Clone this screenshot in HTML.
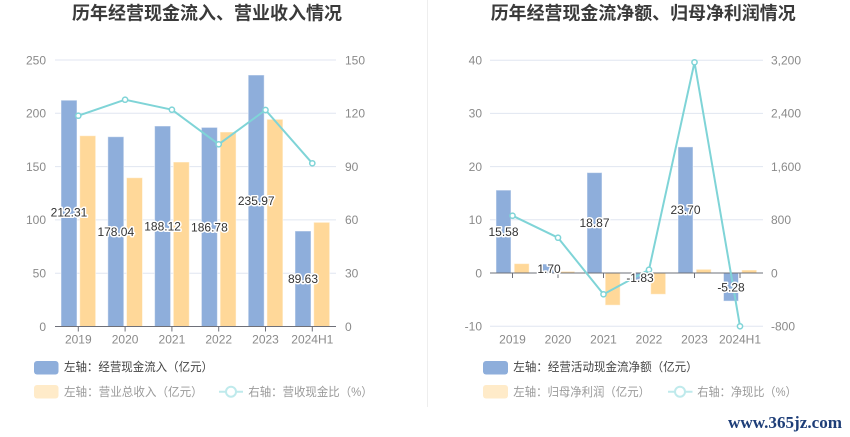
<!DOCTYPE html>
<html><head><meta charset="utf-8"><style>
html,body{margin:0;padding:0;background:#fff;}
svg{display:block;font-family:"Liberation Sans","Noto Sans CJK SC",sans-serif;}
.ax{font-size:12px;fill:#8a8a8a;}
.lb{font-size:12px;fill:#333;stroke:#fff;stroke-width:3px;paint-order:stroke;stroke-linejoin:round;}
.ttl{font-size:18px;font-weight:bold;fill:#3a3a3a;}
.lg1{font-size:12px;fill:#444;}
.lg2{font-size:12px;fill:#9a9a9a;}
</style></head><body>
<svg width="850" height="437" viewBox="0 0 850 437" xmlns="http://www.w3.org/2000/svg">
<rect width="850" height="437" fill="#fff"/>
<line x1="427.5" y1="0" x2="427.5" y2="407" stroke="#eeeeee" stroke-width="1"/>

<!-- LEFT CHART -->
<text class="ttl" x="72" y="19.5" textLength="270" lengthAdjust="spacingAndGlyphs">历年经营现金流入、营业收入情况</text>
<g stroke="#e0e6f1" stroke-width="1">
<line x1="55" y1="60" x2="336" y2="60"/>
<line x1="55" y1="113.3" x2="336" y2="113.3"/>
<line x1="55" y1="166.6" x2="336" y2="166.6"/>
<line x1="55" y1="219.9" x2="336" y2="219.9"/>
<line x1="55" y1="273.2" x2="336" y2="273.2"/>
</g>
<g class="ax" text-anchor="end">
<text x="46" y="64.3">250</text>
<text x="46" y="117.6">200</text>
<text x="46" y="170.9">150</text>
<text x="46" y="224.2">100</text>
<text x="46" y="277.5">50</text>
<text x="46" y="330.8">0</text>
</g>
<g class="ax" text-anchor="start">
<text x="345" y="64.3">150</text>
<text x="345" y="117.6">120</text>
<text x="345" y="170.9">90</text>
<text x="345" y="224.2">60</text>
<text x="345" y="277.5">30</text>
<text x="345" y="330.8">0</text>
</g>
<!-- bars -->
<g fill="#8eaedb" stroke="#ffffff" stroke-opacity="0.5" stroke-width="1">
<rect x="61" y="100.2" width="16" height="226.3"/>
<rect x="107.8" y="136.7" width="16" height="189.8"/>
<rect x="154.6" y="126" width="16" height="200.5"/>
<rect x="201.4" y="127.4" width="16" height="199.1"/>
<rect x="248.2" y="75" width="16" height="251.5"/>
<rect x="295" y="231" width="16" height="95.5"/>
</g>
<g fill="#ffd899" stroke="#ffffff" stroke-opacity="0.5" stroke-width="1">
<rect x="79.7" y="135.7" width="16" height="190.8"/>
<rect x="126.5" y="177.7" width="16" height="148.8"/>
<rect x="173.3" y="162" width="16" height="164.5"/>
<rect x="220.1" y="132" width="16" height="194.5"/>
<rect x="266.9" y="119.3" width="16" height="207.2"/>
<rect x="313.7" y="222.3" width="16" height="104.2"/>
</g>
<line x1="55" y1="326.5" x2="336" y2="326.5" stroke="#6e7079" stroke-width="1"/>
<g stroke="#6e7079" stroke-width="1">
<line x1="78.3" y1="326.5" x2="78.3" y2="331.5"/>
<line x1="125.1" y1="326.5" x2="125.1" y2="331.5"/>
<line x1="171.9" y1="326.5" x2="171.9" y2="331.5"/>
<line x1="218.7" y1="326.5" x2="218.7" y2="331.5"/>
<line x1="265.5" y1="326.5" x2="265.5" y2="331.5"/>
<line x1="312.3" y1="326.5" x2="312.3" y2="331.5"/>
</g>
<g class="ax" text-anchor="middle">
<text x="78.3" y="343.6">2019</text>
<text x="125.1" y="343.6">2020</text>
<text x="171.9" y="343.6">2021</text>
<text x="218.7" y="343.6">2022</text>
<text x="265.5" y="343.6">2023</text>
<text x="312.3" y="343.6">2024H1</text>
</g>
<polyline points="78.3,115.7 125.1,99.7 171.9,109.7 218.7,144.3 265.5,110 312.3,163.3" fill="none" stroke="#7fd4d7" stroke-width="2" stroke-linejoin="round"/>
<g fill="#fff" stroke="#7fd4d7" stroke-width="1.5">
<circle cx="78.3" cy="115.7" r="2.6"/>
<circle cx="125.1" cy="99.7" r="2.6"/>
<circle cx="171.9" cy="109.7" r="2.6"/>
<circle cx="218.7" cy="144.3" r="2.6"/>
<circle cx="265.5" cy="110" r="2.6"/>
<circle cx="312.3" cy="163.3" r="2.6"/>
</g>
<g class="lb" text-anchor="middle">
<text x="69" y="216.6">212.31</text>
<text x="115.8" y="235.9">178.04</text>
<text x="162.6" y="230.6">188.12</text>
<text x="209.4" y="231.3">186.78</text>
<text x="256.2" y="205">235.97</text>
<text x="303" y="283.1">89.63</text>
</g>
<!-- left legend -->
<rect x="34" y="361" width="24.5" height="13.5" rx="3" fill="#8eaedb"/>
<text class="lg1" x="64" y="371.2" textLength="149" lengthAdjust="spacingAndGlyphs">左轴：经营现金流入（亿元）</text>
<rect x="34" y="385" width="24.5" height="13.5" rx="3" fill="#ffebc9"/>
<text class="lg2" x="64" y="396.2" textLength="138.7" lengthAdjust="spacingAndGlyphs">左轴：营业总收入（亿元）</text>
<line x1="219" y1="391.7" x2="243" y2="391.7" stroke="#bfeaec" stroke-width="2"/>
<circle cx="231" cy="391.7" r="5" fill="#fff" stroke="#bfeaec" stroke-width="2"/>
<text class="lg2" x="248.3" y="396.2" textLength="124.4" lengthAdjust="spacingAndGlyphs">右轴：营收现金比（%）</text>

<!-- RIGHT CHART -->
<text class="ttl" x="490.7" y="19.5" textLength="305" lengthAdjust="spacingAndGlyphs">历年经营现金流净额、归母净利润情况</text>
<g stroke="#e0e6f1" stroke-width="1">
<line x1="490" y1="60.2" x2="763" y2="60.2"/>
<line x1="490" y1="113.4" x2="763" y2="113.4"/>
<line x1="490" y1="166.6" x2="763" y2="166.6"/>
<line x1="490" y1="219.8" x2="763" y2="219.8"/>
<line x1="490" y1="326.2" x2="763" y2="326.2"/>
</g>
<g class="ax" text-anchor="end">
<text x="482" y="64.5">40</text>
<text x="482" y="117.7">30</text>
<text x="482" y="170.9">20</text>
<text x="482" y="224.1">10</text>
<text x="482" y="277.3">0</text>
<text x="482" y="330.5">-10</text>
</g>
<g class="ax" text-anchor="start">
<text x="771" y="64.5">3,200</text>
<text x="771" y="117.7">2,400</text>
<text x="771" y="170.9">1,600</text>
<text x="771" y="224.1">800</text>
<text x="771" y="277.3">0</text>
<text x="771" y="330.5">-800</text>
</g>
<g fill="#8eaedb" stroke="#ffffff" stroke-opacity="0.5" stroke-width="1">
<rect x="496" y="190.1" width="15" height="82.9"/>
<rect x="541.5" y="264" width="15" height="9"/>
<rect x="587" y="172.6" width="15" height="100.4"/>
<rect x="632.5" y="273" width="15" height="9.7"/>
<rect x="678" y="146.9" width="15" height="126.1"/>
<rect x="723.5" y="273" width="15" height="28.1"/>
</g>
<g fill="#ffd899" stroke="#ffffff" stroke-opacity="0.5" stroke-width="1">
<rect x="514.2" y="263.6" width="15" height="9.4"/>
<rect x="559.7" y="271.4" width="15" height="1.6"/>
<rect x="605.2" y="273" width="15" height="32.2"/>
<rect x="650.7" y="273" width="15" height="21.3"/>
<rect x="696.2" y="269.3" width="15" height="3.7"/>
<rect x="741.7" y="270" width="15" height="3"/>
</g>
<line x1="490" y1="273" x2="763" y2="273" stroke="#6e7079" stroke-width="1"/>
<g stroke="#6e7079" stroke-width="1">
<line x1="512.5" y1="273" x2="512.5" y2="278"/>
<line x1="558" y1="273" x2="558" y2="278"/>
<line x1="603.5" y1="273" x2="603.5" y2="278"/>
<line x1="649" y1="273" x2="649" y2="278"/>
<line x1="694.5" y1="273" x2="694.5" y2="278"/>
<line x1="740" y1="273" x2="740" y2="278"/>
</g>
<g class="ax" text-anchor="middle">
<text x="512.5" y="343.6">2019</text>
<text x="558" y="343.6">2020</text>
<text x="603.5" y="343.6">2021</text>
<text x="649" y="343.6">2022</text>
<text x="694.5" y="343.6">2023</text>
<text x="740" y="343.6">2024H1</text>
</g>
<polyline points="512.5,215.7 558,237.7 603.5,294.3 649,269.7 694.5,62.3 740,326.3" fill="none" stroke="#7fd4d7" stroke-width="2" stroke-linejoin="round"/>
<g fill="#fff" stroke="#7fd4d7" stroke-width="1.5">
<circle cx="512.5" cy="215.7" r="2.6"/>
<circle cx="558" cy="237.7" r="2.6"/>
<circle cx="603.5" cy="294.3" r="2.6"/>
<circle cx="649" cy="269.7" r="2.6"/>
<circle cx="694.5" cy="62.3" r="2.6"/>
<circle cx="740" cy="326.3" r="2.6"/>
</g>
<g class="lb" text-anchor="middle">
<text x="503.5" y="235.8">15.58</text>
<text x="549" y="272.8">1.70</text>
<text x="594.5" y="227.1">18.87</text>
<text x="640" y="282.2">-1.83</text>
<text x="685.5" y="214.2">23.70</text>
<text x="731" y="291.3">-5.28</text>
</g>
<!-- right legend -->
<rect x="483" y="361" width="25" height="13.5" rx="3" fill="#8eaedb"/>
<text class="lg1" x="513.3" y="371.2" textLength="184.4" lengthAdjust="spacingAndGlyphs">左轴：经营活动现金流净额（亿元）</text>
<rect x="483" y="385" width="25" height="13.5" rx="3" fill="#ffebc9"/>
<text class="lg2" x="513.3" y="396.2" textLength="136.7" lengthAdjust="spacingAndGlyphs">左轴：归母净利润（亿元）</text>
<line x1="668" y1="391.7" x2="692.5" y2="391.7" stroke="#bfeaec" stroke-width="2"/>
<circle cx="680" cy="391.7" r="5" fill="#fff" stroke="#bfeaec" stroke-width="2"/>
<text class="lg2" x="697.3" y="396.2" textLength="99.4" lengthAdjust="spacingAndGlyphs">右轴：净现比（%）</text>

<!-- watermark -->
<text x="728" y="428" font-family="Liberation Serif, serif" font-weight="bold" font-size="17" fill="#1e3e78" textLength="114" lengthAdjust="spacingAndGlyphs">www.365jz.com</text>
</svg>
</body></html>
